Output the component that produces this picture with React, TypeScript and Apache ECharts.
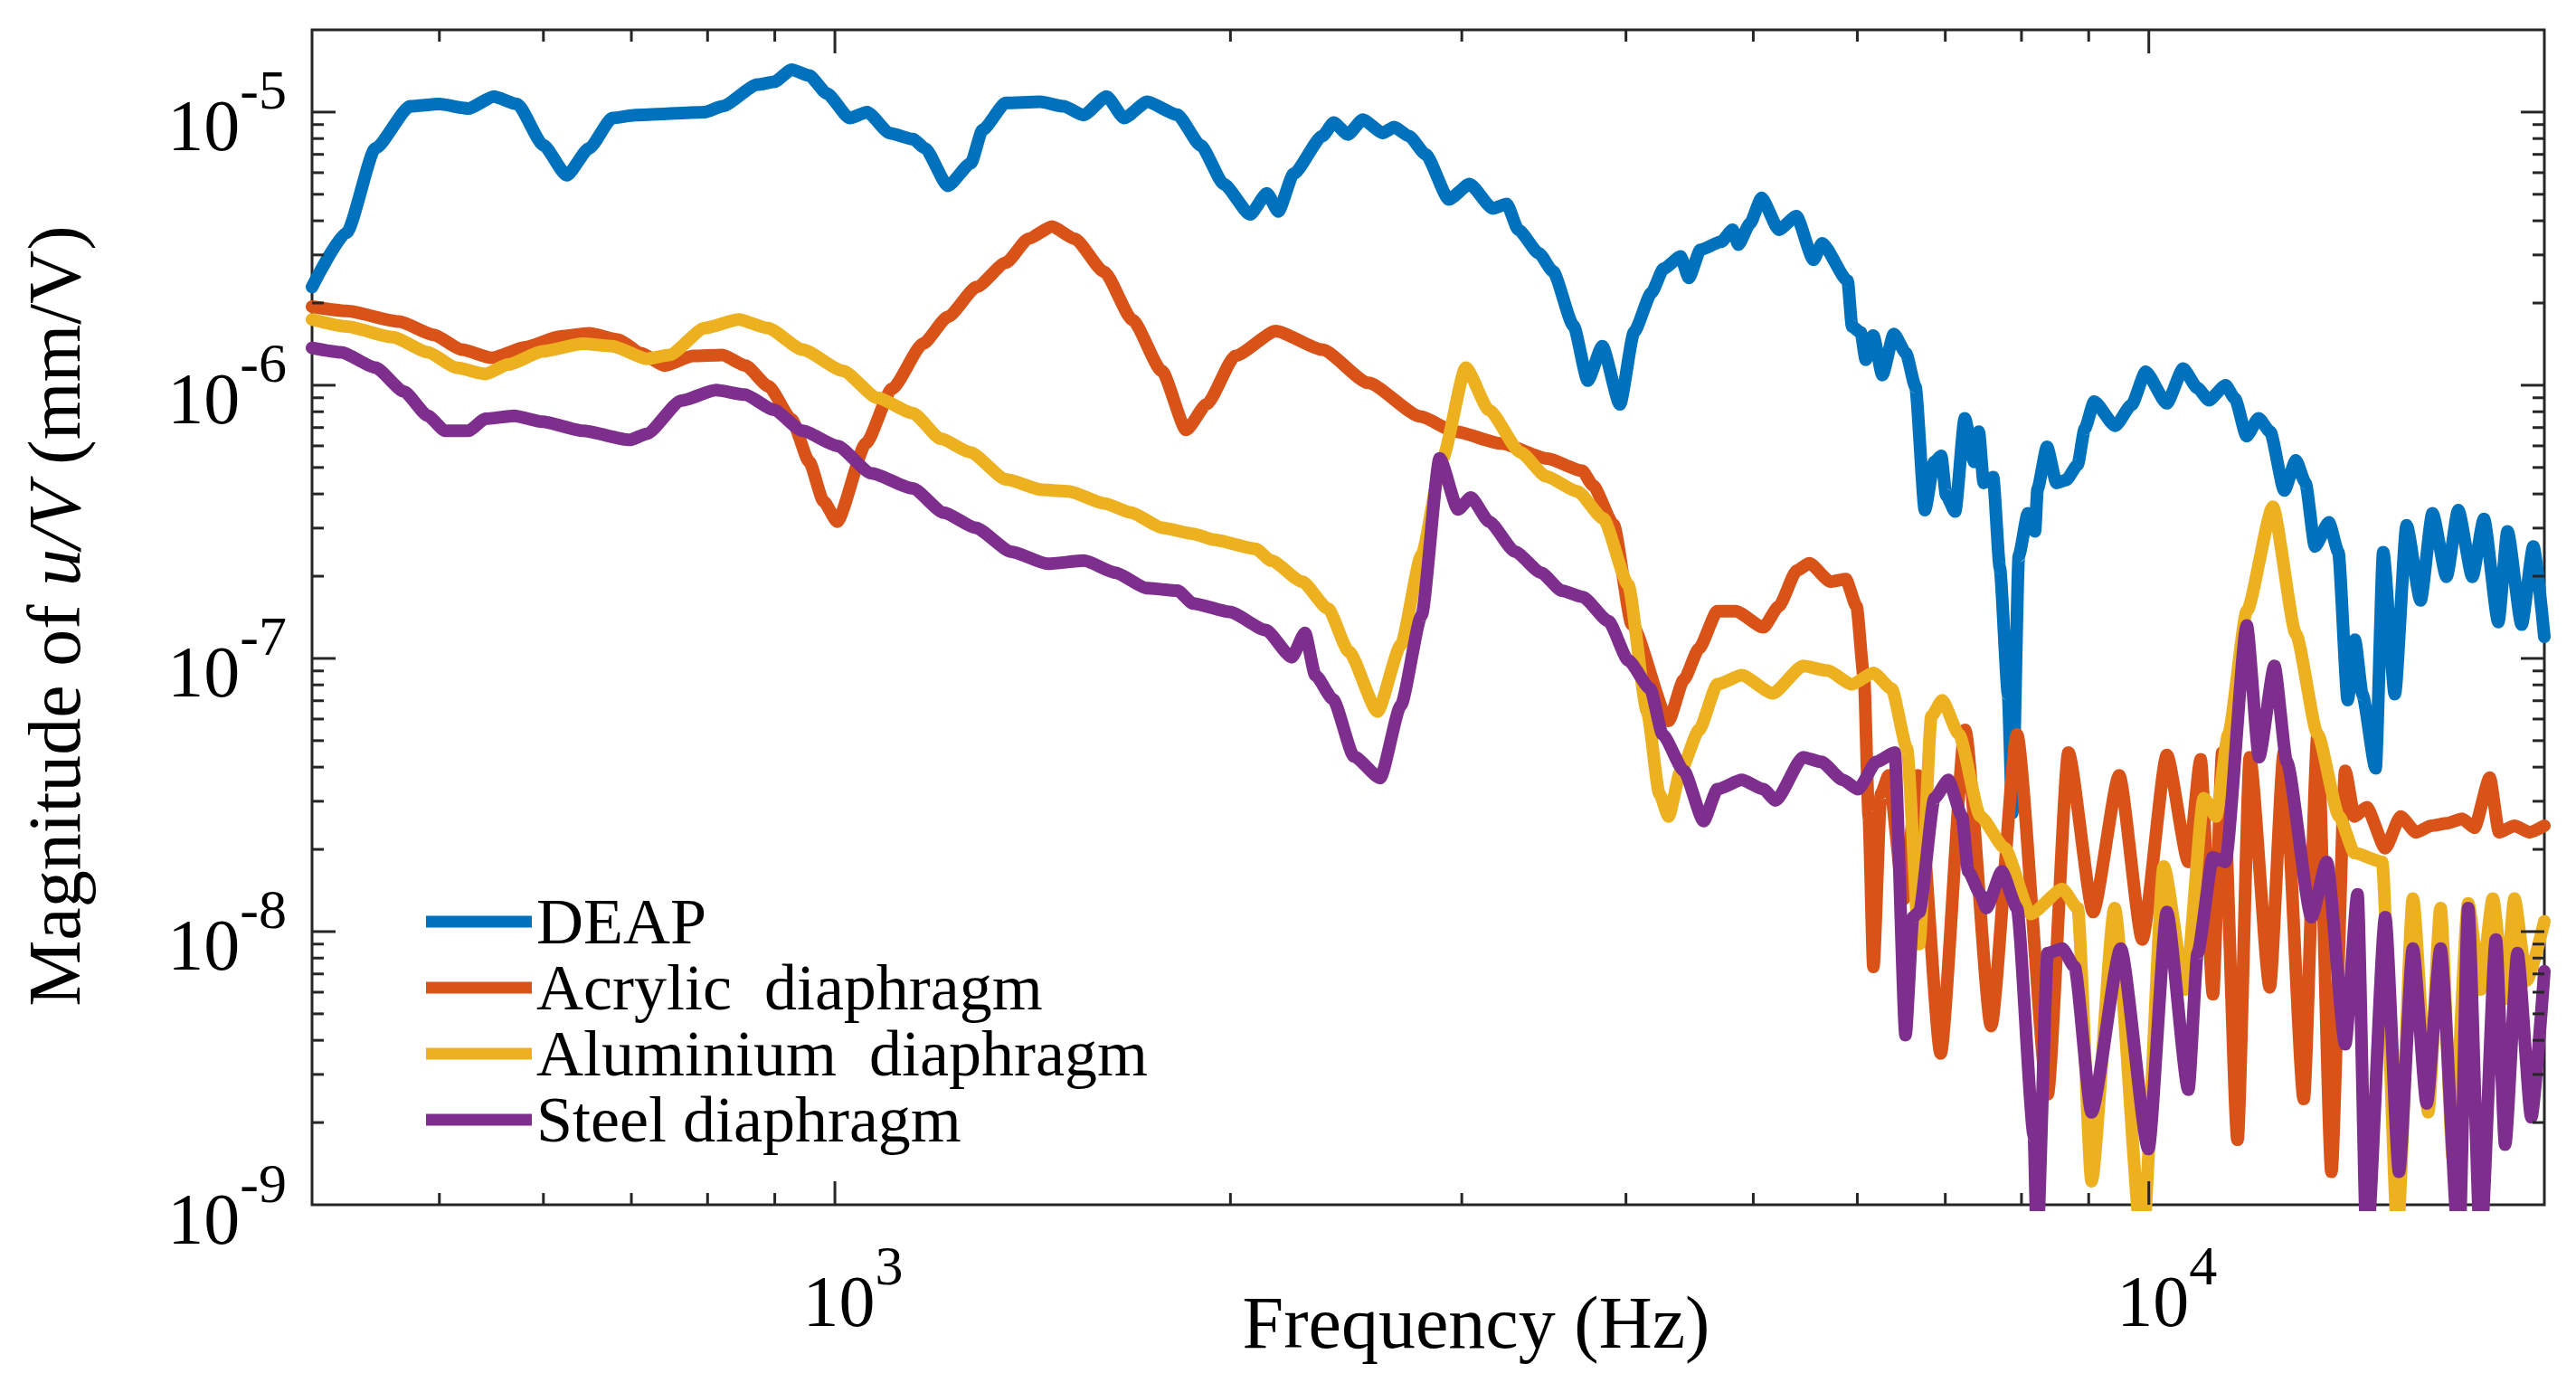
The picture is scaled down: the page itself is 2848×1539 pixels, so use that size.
import React, { useEffect, useRef } from 'react';
import * as echarts from 'echarts';

const FONT = '"Liberation Serif", "Times New Roman", serif';

const seriesNames = ['DEAP', 'Acrylic\u00A0 diaphragm', 'Aluminium\u00A0 diaphragm', 'Steel diaphragm'];
const seriesColors = ['#0072BD', '#D95319', '#EDB120', '#7E2F8E'];

// [frequency (Hz), magnitude (mm/V)]
const deap: [number, number][] = [
  [400, 2.29e-6], [425, 3.62e-6], [447, 7.37e-6], [475, 1.05e-5], [500, 1.07e-5], [526, 1.03e-5],
  [550, 1.14e-5], [573, 1.07e-5], [600, 7.56e-6], [625, 5.87e-6], [650, 7.37e-6], [677, 9.51e-6],
  [705, 9.75e-6], [796, 1.0e-5], [821, 1.05e-5], [873, 1.26e-5], [899, 1.29e-5], [927, 1.43e-5],
  [956, 1.36e-5], [986, 1.17e-5], [1026, 9.51e-6], [1058, 1.0e-5], [1101, 8.37e-6], [1147, 7.96e-6],
  [1171, 7.37e-6], [1219, 5.37e-6], [1269, 6.5e-6], [1295, 8.59e-6], [1349, 1.08e-5], [1433, 1.09e-5],
  [1493, 1.05e-5], [1546, 9.75e-6], [1610, 1.14e-5], [1660, 9.51e-6], [1729, 1.09e-5], [1822, 9.78e-6],
  [1898, 7.56e-6], [1977, 5.45e-6], [2070, 4.22e-6], [2132, 5.04e-6], [2175, 4.33e-6], [2234, 5.94e-6],
  [2349, 8.16e-6], [2397, 9.15e-6], [2457, 8.28e-6], [2522, 9.38e-6], [2612, 8.39e-6], [2665, 8.81e-6],
  [2735, 8.16e-6], [2816, 7.0e-6], [2933, 4.79e-6], [3041, 5.45e-6], [3167, 4.44e-6], [3246, 4.61e-6],
  [3312, 3.71e-6], [3434, 3.04e-6], [3520, 2.61e-6], [3649, 1.65e-6], [3741, 1.04e-6], [3838, 1.39e-6],
  [3958, 8.51e-7], [4058, 1.57e-6], [4183, 2.18e-6], [4272, 2.67e-6], [4402, 2.96e-6], [4466, 2.47e-6],
  [4557, 3.13e-6], [4725, 3.35e-6], [4822, 3.71e-6], [4871, 3.27e-6], [4971, 3.91e-6], [5073, 4.85e-6],
  [5229, 3.71e-6], [5392, 4.16e-6], [5556, 2.88e-6], [5641, 3.31e-6], [5899, 2.41e-6], [5945, 1.64e-6],
  [6037, 1.56e-6], [6089, 1.24e-6], [6170, 1.52e-6], [6269, 1.09e-6], [6397, 1.54e-6], [6534, 1.31e-6],
  [6643, 9.89e-7], [6754, 3.49e-7], [6866, 5.24e-7], [6950, 5.51e-7], [7010, 3.96e-7], [7122, 3.45e-7],
  [7243, 7.57e-7], [7364, 5.24e-7], [7424, 6.76e-7], [7487, 4.39e-7], [7612, 4.61e-7], [7702, 2.15e-7],
  [7814, 7.4e-8], [7872, 2.72e-8], [7963, 2.38e-7], [8091, 3.4e-7], [8192, 2.92e-7], [8228, 4.17e-7],
  [8366, 5.95e-7], [8506, 4.39e-7], [8650, 4.5e-7], [8827, 5.11e-7], [8938, 6.93e-7], [9087, 8.71e-7],
  [9428, 7.1e-7], [9703, 8.48e-7], [9945, 1.12e-6], [10320, 8.59e-7], [10620, 1.15e-6], [10890, 9.76e-7],
  [11110, 8.82e-7], [11440, 1.0e-6], [11630, 8.93e-7], [11870, 6.51e-7], [12120, 7.57e-7], [12370, 6.76e-7],
  [12680, 4.12e-7], [12940, 5.31e-7], [13160, 4.39e-7], [13380, 2.57e-7], [13710, 3.15e-7], [13940, 2.45e-7],
  [14170, 7.04e-8], [14350, 1.17e-7], [14540, 7.4e-8], [14880, 3.96e-8], [15080, 2.45e-7], [15390, 7.4e-8],
  [15710, 3.07e-7], [16100, 1.63e-7], [16440, 3.4e-7], [16850, 1.99e-7], [17200, 3.49e-7], [17630, 1.99e-7],
  [17990, 3.24e-7], [18450, 1.36e-7], [18750, 2.92e-7], [19220, 1.33e-7], [19620, 2.57e-7], [20000, 1.2e-7],
];

const acrylic: [number, number][] = [
  [400, 1.94e-6], [425, 1.87e-6], [466, 1.71e-6], [495, 1.53e-6], [520, 1.35e-6], [548, 1.26e-6],
  [582, 1.38e-6], [618, 1.51e-6], [650, 1.55e-6], [684, 1.47e-6], [712, 1.31e-6], [742, 1.18e-6],
  [780, 1.28e-6], [821, 1.29e-6], [855, 1.18e-6], [890, 9.92e-7], [927, 7.49e-7], [956, 5.25e-7],
  [980, 3.77e-7], [1004, 3.17e-7], [1056, 6.14e-7], [1105, 9.69e-7], [1167, 1.42e-6], [1219, 1.78e-6],
  [1282, 2.29e-6], [1349, 2.81e-6], [1404, 3.44e-6], [1463, 3.81e-6], [1522, 3.44e-6], [1603, 2.6e-6],
  [1685, 1.73e-6], [1773, 1.13e-6], [1851, 6.86e-7], [1918, 8.51e-7], [2017, 1.28e-6], [2166, 1.58e-6],
  [2349, 1.35e-6], [2547, 1.02e-6], [2791, 7.68e-7], [2964, 6.77e-7], [3215, 6.12e-7], [3486, 5.39e-7],
  [3705, 4.86e-7], [3775, 4.3e-7], [3914, 3.09e-7], [4042, 1.33e-7], [4310, 5.91e-8], [4427, 8.36e-8],
  [4547, 1.09e-7], [4695, 1.49e-7], [4848, 1.49e-7], [5089, 1.3e-7], [5227, 1.55e-7], [5397, 2.1e-7],
  [5515, 2.23e-7], [5725, 1.91e-7], [5880, 1.95e-7], [5992, 1.55e-7], [6072, 8.36e-8], [6121, 2.64e-8],
  [6171, 7.43e-9], [6254, 3.2e-8], [6338, 3.73e-8], [6511, 1.32e-8], [6670, 3.73e-8], [6943, 3.58e-9],
  [7248, 5.47e-8], [7585, 4.51e-9], [7937, 5.27e-8], [8376, 2.54e-9], [8686, 4.52e-8], [9070, 1.18e-8],
  [9494, 3.73e-8], [9886, 9.36e-9], [10321, 4.43e-8], [10718, 1.8e-8], [10951, 4.27e-8], [11190, 5.9e-9],
  [11373, 4.52e-8], [11682, 1.73e-9], [11937, 4.35e-8], [12361, 6.25e-9], [12668, 4.52e-8], [13120, 2.44e-9],
  [13442, 5.27e-8], [13771, 1.32e-9], [14109, 3.88e-8], [14339, 2.64e-8], [14651, 2.85e-8], [15133, 2.02e-8],
  [15546, 2.64e-8], [15971, 2.31e-8], [16407, 2.44e-8], [16858, 2.49e-8], [17318, 2.59e-8], [17693, 2.4e-8],
  [18176, 3.66e-8], [18473, 2.31e-8], [18978, 2.44e-8], [19496, 2.31e-8], [20000, 2.44e-8],
];

const aluminium: [number, number][] = [
  [400, 1.74e-6], [425, 1.64e-6], [461, 1.5e-6], [490, 1.32e-6], [515, 1.16e-6], [542, 1.1e-6],
  [564, 1.19e-6], [599, 1.33e-6], [643, 1.42e-6], [677, 1.39e-6], [719, 1.25e-6], [748, 1.29e-6],
  [796, 1.62e-6], [845, 1.74e-6], [889, 1.62e-6], [945, 1.35e-6], [1014, 1.13e-6], [1077, 9.0e-7],
  [1146, 7.91e-7], [1204, 6.37e-7], [1267, 5.69e-7], [1350, 4.52e-7], [1439, 4.14e-7], [1506, 4.09e-7],
  [1605, 3.69e-7], [1680, 3.42e-7], [1774, 3.01e-7], [1873, 2.86e-7], [1943, 2.72e-7], [2090, 2.52e-7],
  [2148, 2.28e-7], [2268, 1.91e-7], [2373, 1.52e-7], [2461, 1.06e-7], [2588, 6.39e-8], [2696, 1.12e-7],
  [2796, 2.4e-7], [2900, 5.4e-7], [3021, 1.16e-6], [3147, 8.11e-7], [3323, 5.69e-7], [3478, 4.64e-7],
  [3673, 4.09e-7], [3844, 3.25e-7], [4016, 1.86e-7], [4151, 6.39e-8], [4241, 3.2e-8], [4310, 2.64e-8],
  [4403, 3.88e-8], [4547, 5.48e-8], [4695, 8.04e-8], [4900, 8.68e-8], [5172, 7.45e-8], [5456, 9.38e-8],
  [5694, 9.03e-8], [5943, 8.04e-8], [6171, 8.85e-8], [6373, 7.74e-8], [6545, 4.69e-8], [6688, 9.01e-9],
  [6832, 6.14e-8], [6962, 7.03e-8], [7170, 5.27e-8], [7444, 2.64e-8], [7769, 2.02e-8], [8129, 1.16e-8],
  [8593, 1.43e-8], [8828, 1.22e-8], [9045, 1.22e-9], [9418, 1.22e-8], [9886, 7e-10], [10266, 1.73e-8],
  [10661, 6.14e-9], [11011, 3.08e-8], [11251, 2.64e-8], [11494, 5.27e-8], [11873, 1.49e-7], [12428, 3.59e-7],
  [12941, 1.23e-7], [13442, 5.27e-8], [13958, 2.64e-8], [14339, 1.94e-8], [15051, 1.8e-8], [15462, 8e-10],
  [15885, 1.32e-8], [16319, 2.18e-9], [16674, 1.22e-8], [17037, 1.48e-9], [17502, 1.27e-8], [17884, 6.14e-9],
  [18274, 1.32e-8], [18672, 5.68e-9], [18978, 1.32e-8], [19391, 6.62e-9], [20000, 1.09e-8],
];

const steel: [number, number][] = [
  [400, 1.37e-6], [421, 1.32e-6], [447, 1.16e-6], [470, 9.47e-7], [490, 7.73e-7], [505, 6.81e-7],
  [526, 6.81e-7], [542, 7.54e-7], [570, 7.73e-7], [599, 7.35e-7], [643, 6.81e-7], [698, 6.31e-7],
  [719, 6.64e-7], [764, 8.78e-7], [812, 9.6e-7], [854, 9.24e-7], [898, 8.13e-7], [945, 6.81e-7],
  [1004, 6.0e-7], [1066, 4.76e-7], [1146, 4.19e-7], [1210, 3.42e-7], [1279, 3.01e-7], [1362, 2.46e-7],
  [1452, 2.22e-7], [1547, 2.28e-7], [1635, 2.06e-7], [1726, 1.81e-7], [1823, 1.77e-7], [1873, 1.59e-7],
  [1997, 1.48e-7], [2128, 1.27e-7], [2227, 1.01e-7], [2279, 1.24e-7], [2321, 8.67e-8], [2394, 7.08e-8],
  [2484, 4.37e-8], [2600, 3.65e-8], [2696, 6.73e-8], [2796, 1.44e-7], [2886, 5.4e-7], [2980, 3.51e-7],
  [3048, 3.88e-7], [3147, 3.17e-7], [3293, 2.46e-7], [3447, 2.06e-7], [3574, 1.77e-7], [3707, 1.68e-7],
  [3879, 1.37e-7], [4016, 9.84e-8], [4174, 7.74e-8], [4265, 5.27e-8], [4427, 3.88e-8], [4583, 2.54e-8],
  [4695, 3.32e-8], [4900, 3.59e-8], [5089, 3.32e-8], [5200, 3.02e-8], [5456, 4.35e-8], [5633, 4.18e-8],
  [5850, 3.59e-8], [6008, 3.32e-8], [6204, 4.18e-8], [6406, 4.52e-8], [6529, 4.18e-9], [6616, 1.13e-8],
  [6688, 1.18e-8], [6869, 3.08e-8], [7037, 3.59e-8], [7209, 2.64e-8], [7287, 1.66e-8], [7444, 1.37e-8],
  [7523, 1.22e-8], [7729, 1.66e-8], [7937, 1.22e-8], [8176, 1.79e-9], [8220, 7e-10], [8376, 8.34e-9],
  [8593, 8.67e-9], [8780, 7.43e-9], [9045, 2.18e-9], [9520, 8.67e-9], [9993, 1.6e-9], [10321, 1.18e-8],
  [10718, 2.64e-9], [10892, 8.34e-9], [11190, 1.87e-8], [11434, 1.8e-8], [11873, 1.32e-7], [12131, 4.35e-8],
  [12462, 9.38e-8], [12736, 4.18e-8], [13298, 1.13e-8], [13660, 1.8e-8], [14109, 3.87e-9], [14416, 1.37e-8],
  [14651, 7e-10], [15133, 1.13e-8], [15504, 1.32e-9], [15885, 8.67e-9], [16275, 2.35e-9], [16674, 8.67e-9],
  [17222, 7e-10], [17502, 1.22e-8], [17884, 7e-10], [18373, 9.36e-9], [18672, 1.66e-9], [19080, 8.34e-9],
  [19549, 2.09e-9], [20000, 7.16e-9],
];

const xRange = [400, 20000];
const yRange = [1e-9, 2e-5];
const xMajorTicks = [1000, 10000];
const xMinorTicks = [500, 600, 700, 800, 900, 2000, 3000, 4000, 5000, 6000, 7000, 8000, 9000];
const yMajorTicks = [1e-8, 1e-7, 1e-6, 1e-5];
const yMinorTicks = [
  2e-9, 3e-9, 4e-9, 5e-9, 6e-9, 7e-9, 8e-9, 9e-9,
  2e-8, 3e-8, 4e-8, 5e-8, 6e-8, 7e-8, 8e-8, 9e-8,
  2e-7, 3e-7, 4e-7, 5e-7, 6e-7, 7e-7, 8e-7, 9e-7,
  2e-6, 3e-6, 4e-6, 5e-6, 6e-6, 7e-6, 8e-6, 9e-6,
];

const legendCenters = [1019, 1092, 1165, 1238];
const AXIS_COLOR = '#262626';
const MAJOR_LEN = 26;
const MINOR_LEN = 13;

const powerLabel = (v: number) => {
  const e = Math.log10(v);
  const r = Math.round(e);
  if (Math.abs(e - r) > 1e-6) return '';
  return `{b|10}{s|${r}}`;
};

const labelRich = {
  b: { fontFamily: FONT, fontSize: 80, lineHeight: 111, verticalAlign: 'bottom', color: '#000' },
  s: { fontFamily: FONT, fontSize: 62, lineHeight: 62, verticalAlign: 'top', color: '#000' },
};

export default function App() {
  const ref = useRef<HTMLDivElement>(null);

  useEffect(() => {
    if (!ref.current) return;
    const chart = echarts.init(ref.current, undefined, { renderer: 'svg' });

    const data = [deap, acrylic, aluminium, steel];

    const lineSeries = data.map((d, i) => ({
      name: seriesNames[i],
      type: 'line',
      data: d,
      showSymbol: false,
      symbol: 'none',
      smooth: 0.2,
      smoothMonotone: 'x',
      color: seriesColors[i],
      lineStyle: { color: seriesColors[i], width: 14, cap: 'round', join: 'round' },
      clip: true,
      z: 3 + i,
      silent: true,
    }));

    const xTickData = [
      ...xMajorTicks.map((v) => [v, yRange[0], MAJOR_LEN]),
      ...xMinorTicks.map((v) => [v, yRange[0], MINOR_LEN]),
    ];
    const yTickData = [
      ...yMajorTicks.map((v) => [xRange[0], v, MAJOR_LEN]),
      ...yMinorTicks.map((v) => [xRange[0], v, MINOR_LEN]),
    ];

    const tickStyle = { stroke: AXIS_COLOR, lineWidth: 3 };

    const xTickSeries = {
      type: 'custom',
      silent: true,
      clip: false,
      z: 10,
      encode: { x: 0, y: 1 },
      data: xTickData,
      renderItem: (_p: any, api: any) => {
        const f = api.value(0);
        const len = api.value(2);
        const b = api.coord([f, yRange[0]]);
        const t = api.coord([f, yRange[1]]);
        return {
          type: 'group',
          children: [
            { type: 'line', shape: { x1: b[0], y1: b[1], x2: b[0], y2: b[1] - len }, style: tickStyle },
            { type: 'line', shape: { x1: t[0], y1: t[1], x2: t[0], y2: t[1] + len }, style: tickStyle },
          ],
        };
      },
    };

    const yTickSeries = {
      type: 'custom',
      silent: true,
      clip: false,
      z: 10,
      encode: { x: 0, y: 1 },
      data: yTickData,
      renderItem: (_p: any, api: any) => {
        const v = api.value(1);
        const len = api.value(2);
        const l = api.coord([xRange[0], v]);
        const r = api.coord([xRange[1], v]);
        return {
          type: 'group',
          children: [
            { type: 'line', shape: { x1: l[0], y1: l[1], x2: l[0] + len, y2: l[1] }, style: tickStyle },
            { type: 'line', shape: { x1: r[0], y1: r[1], x2: r[0] - len, y2: r[1] }, style: tickStyle },
          ],
        };
      },
    };

    const legends = seriesNames.map((name, i) => ({
      data: [name],
      left: 471,
      top: legendCenters[i] - 36,
      padding: 0,
      orient: 'vertical',
      icon: 'rect',
      itemWidth: 117,
      itemHeight: 13,
      itemGap: 0,
      itemTextGap: 10,
      selectedMode: false,
      textStyle: { fontFamily: FONT, fontSize: 72, lineHeight: 72, color: '#000' },
    }));

    const option: any = {
      animation: false,
      backgroundColor: '#ffffff',
      grid: {
        left: 345,
        right: 35,
        top: 33,
        bottom: 207,
        show: true,
        borderColor: AXIS_COLOR,
        borderWidth: 3,
        backgroundColor: 'transparent',
        containLabel: false,
        outerBoundsMode: 'none',
      },
      legend: legends,
      xAxis: {
        type: 'log',
        logBase: 10,
        min: xRange[0],
        max: xRange[1],
        axisLine: { show: false },
        axisTick: { show: false },
        minorTick: { show: false },
        splitLine: { show: false },
        axisLabel: {
          formatter: powerLabel,
          rich: labelRich,
          margin: 36,
          padding: [0, 0, 0, 40],
          showMinLabel: false,
          showMaxLabel: false,
        },
      },
      yAxis: {
        type: 'log',
        logBase: 10,
        min: yRange[0],
        max: yRange[1],
        axisLine: { show: false },
        axisTick: { show: false },
        minorTick: { show: false },
        splitLine: { show: false },
        axisLabel: {
          formatter: powerLabel,
          rich: labelRich,
          margin: 28,
        },
      },
      graphic: [
        {
          type: 'text',
          x: 1632,
          y: 1462,
          silent: true,
          style: {
            text: 'Frequency (Hz)',
            fontFamily: FONT,
            fontSize: 82,
            fill: '#000',
            align: 'center',
            verticalAlign: 'middle',
          },
        },
        {
          type: 'text',
          x: 60,
          y: 681,
          rotation: Math.PI / 2,
          silent: true,
          style: {
            text: '{n|Magnitude of }{i|u/V}{n| (mm/V)}',
            fill: '#000',
            align: 'center',
            verticalAlign: 'middle',
            rich: {
              n: { fontFamily: FONT, fontSize: 82, fill: '#000', color: '#000' },
              i: { fontFamily: FONT, fontSize: 82, fontStyle: 'italic', fill: '#000', color: '#000' },
            },
          },
        },
      ],
      series: [...lineSeries, xTickSeries, yTickSeries],
    };

    chart.setOption(option);
    return () => chart.dispose();
  }, []);

  return (
    <div
      ref={ref}
      style={{ position: 'fixed', left: 0, top: 0, width: 2848, height: 1539, background: '#fff' }}
    />
  );
}
